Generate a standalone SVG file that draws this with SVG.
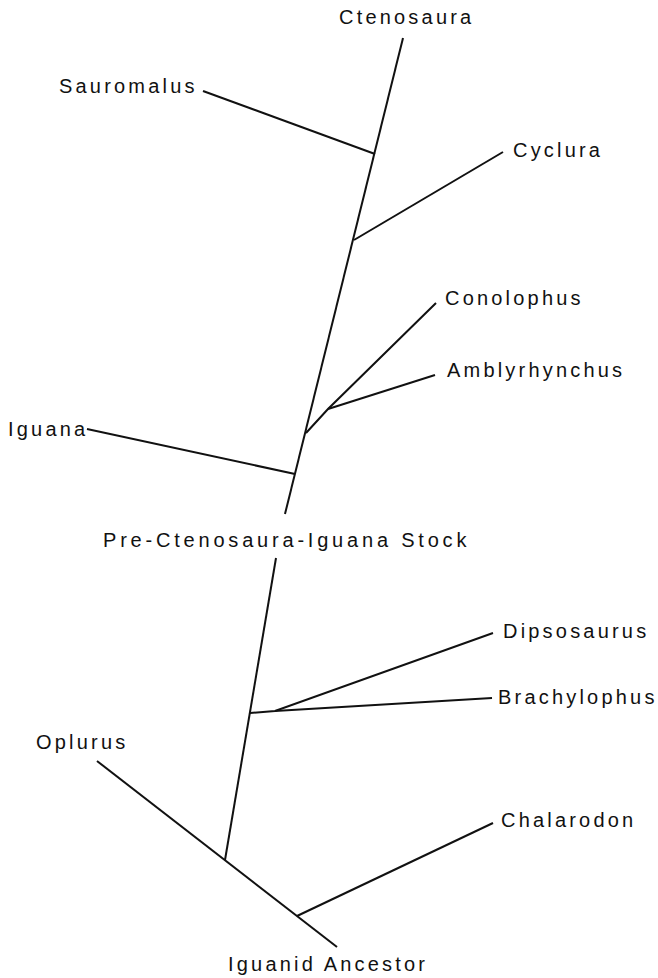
<svg xmlns="http://www.w3.org/2000/svg" width="658" height="978" viewBox="0 0 658 978">
<style>
.l{stroke:#111;stroke-width:2;fill:none;stroke-linecap:butt}
text{font-family:"Liberation Sans",Arial,sans-serif;font-size:20px;letter-spacing:3.2px;fill:#111}
</style>
<rect width="658" height="978" fill="#fff"/>
<g id="connectors">
<line class="l" x1="403" y1="38" x2="285" y2="514"/>
<line class="l" x1="203" y1="91" x2="375" y2="154"/>
<line class="l" x1="354" y1="240" x2="503" y2="152"/>
<polyline class="l" points="436,303 328,409 306,433"/>
<line class="l" x1="435" y1="375" x2="328" y2="409"/>
<line class="l" x1="87" y1="429" x2="295" y2="474"/>
<line class="l" x1="276" y1="558" x2="225" y2="860"/>
<polyline class="l" points="250,713 275,711 493,633"/>
<line class="l" x1="275" y1="711" x2="492" y2="698"/>
<line class="l" x1="97" y1="761" x2="337" y2="947"/>
<line class="l" x1="297" y1="916" x2="493" y2="823"/>
</g>
<g id="Ctenosaura"><text x="339" y="24">Ctenosaura</text></g>
<g id="Sauromalus"><text x="59" y="93">Sauromalus</text></g>
<g id="Cyclura"><text x="513" y="157">Cyclura</text></g>
<g id="Conolophus"><text x="445" y="305">Conolophus</text></g>
<g id="Amblyrhynchus"><text x="447" y="377">Amblyrhynchus</text></g>
<g id="Iguana"><text x="8" y="436">Iguana</text></g>
<g id="PreStock"><text x="103" y="547" style="letter-spacing:3.8px">Pre-Ctenosaura-Iguana Stock</text></g>
<g id="Dipsosaurus"><text x="503" y="638">Dipsosaurus</text></g>
<g id="Brachylophus"><text x="498" y="704">Brachylophus</text></g>
<g id="Oplurus"><text x="36" y="749">Oplurus</text></g>
<g id="Chalarodon"><text x="501" y="827">Chalarodon</text></g>
<g id="IguanidAncestor"><text x="228" y="971">Iguanid Ancestor</text></g>
</svg>
